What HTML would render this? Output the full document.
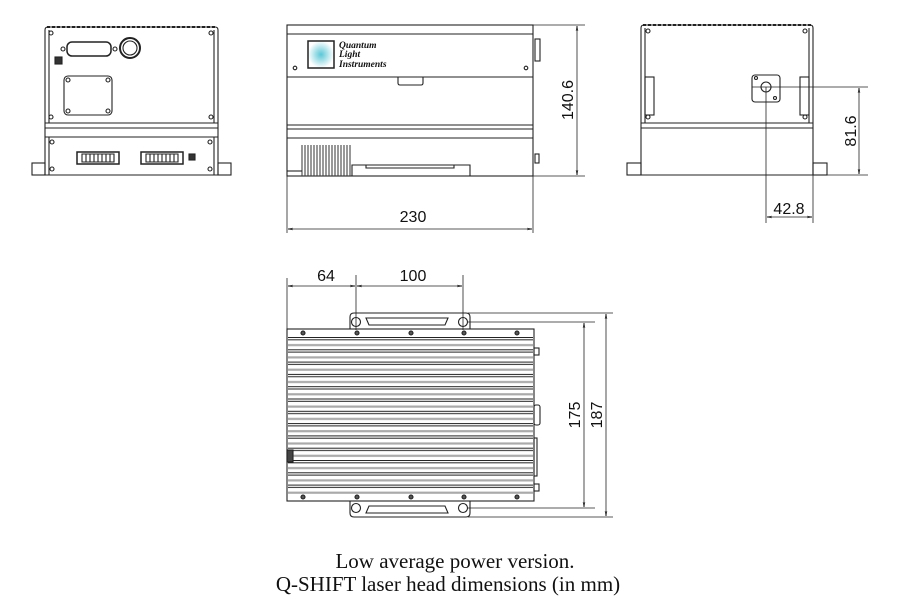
<!DOCTYPE html>
<html><head><style>
html,body{margin:0;padding:0;background:#fff}
svg{display:block}
</style></head><body>
<svg width="900" height="605" viewBox="0 0 900 605" xmlns="http://www.w3.org/2000/svg">
<defs>
<pattern id="fins" x="0" y="337" width="10" height="12.3" patternUnits="userSpaceOnUse">
<rect x="0" y="0" width="10" height="1" fill="#222"/>
<rect x="0" y="2.3" width="10" height="1" fill="#222"/>
<rect x="0" y="7" width="10" height="2.2" fill="#aaa"/>
</pattern>
<radialGradient id="glow"><stop offset="0" stop-color="#5cc6d6"/><stop offset="1" stop-color="#fff"/></radialGradient>
<marker id="a" viewBox="0 0 10 10" refX="10" refY="5" markerWidth="6" markerHeight="6" orient="auto-start-reverse"><path d="M0,3 L10,5 L0,7" fill="none" stroke="#000"/></marker>
</defs>
<g fill="none" stroke="#222" stroke-width="1.1">
<!-- FRONT VIEW -->
<path d="M45,30 Q45,27 48,27 L215,27 Q218,27 218,30 L218,175 L45,175 Z" fill="#fff"/>
<path d="M47,27 L216,27" stroke-dasharray="3,2" stroke-width="2"/>
<line x1="45" y1="123" x2="218" y2="123"/>
<line x1="45" y1="128" x2="218" y2="128"/>
<line x1="45" y1="137" x2="218" y2="137"/>
<line x1="49" y1="30" x2="49" y2="123"/><line x1="214" y1="30" x2="214" y2="123"/>
<line x1="49" y1="137" x2="49" y2="175"/><line x1="214" y1="137" x2="214" y2="175"/>
<rect x="32" y="163" width="13" height="12"/><rect x="218" y="163" width="13" height="12"/>
<rect x="67" y="42" width="44" height="14" rx="5" stroke-width="1.5"/>
<circle cx="63" cy="49" r="2"/><circle cx="115" cy="49" r="2"/>
<circle cx="130" cy="48" r="10" stroke-width="2"/><circle cx="130" cy="48" r="7"/>
<rect x="55" y="57" width="7" height="7" fill="#333"/>
<rect x="64" y="76" width="48" height="39" rx="4"/>
<circle cx="68" cy="80" r="2"/><circle cx="108" cy="80" r="2"/><circle cx="68" cy="111" r="2"/><circle cx="108" cy="111" r="2"/>
<circle cx="51" cy="33" r="2"/><circle cx="211" cy="33" r="2"/><circle cx="51" cy="117" r="2"/><circle cx="211" cy="117" r="2"/>
<circle cx="52" cy="142" r="2"/><circle cx="210" cy="142" r="2"/><circle cx="52" cy="169" r="2"/><circle cx="210" cy="169" r="2"/>
<rect x="77" y="152" width="42" height="12" stroke-width="1.5"/><path d="M82,154 h32 v8 h-32z M86,154v8 M90,154v8 M94,154v8 M98,154v8 M102,154v8 M106,154v8 M110,154v8"/>
<rect x="141" y="152" width="42" height="12" stroke-width="1.5"/><path d="M146,154 h32 v8 h-32z M150,154v8 M154,154v8 M158,154v8 M162,154v8 M166,154v8 M170,154v8 M174,154v8"/>
<rect x="189" y="154" width="6" height="6" fill="#333"/>

<!-- SIDE VIEW -->
<rect x="287" y="25" width="246" height="151" fill="#fff"/>
<line x1="287" y1="34" x2="533" y2="34"/>
<line x1="287" y1="77" x2="533" y2="77"/>
<line x1="287" y1="125" x2="533" y2="125"/>
<line x1="287" y1="129" x2="533" y2="129"/>
<line x1="287" y1="138" x2="533" y2="138"/>
<rect x="308" y="41" width="26" height="27" stroke-width="1.5" fill="url(#glow)"/>
<circle cx="295" cy="68" r="1.8"/><circle cx="526" cy="68" r="1.8"/>
<path d="M398,77 v6 q0,2 2,2 h21 q2,0 2,-2 v-6"/>
<rect x="535" y="39" width="5" height="22"/>
<rect x="535" y="154" width="4" height="9"/>
<path d="M302,145 v31 M305,145v31 M308,145v31 M311,145v31 M314,145v31 M317,145v31 M320,145v31 M323,145v31 M326,145v31 M329,145v31 M332,145v31 M335,145v31 M338,145v31 M341,145v31 M344,145v31 M347,145v31 M350,145v31" stroke="#444"/>
<path d="M352,176 v-11 h118 v11 M366,165 v3 h88 v-3"/>
<path d="M287,171 h15"/>
<!-- dims side -->
<line x1="533" y1="25" x2="585" y2="25" stroke-width="0.8"/>
<line x1="533" y1="176" x2="585" y2="176" stroke-width="0.8"/>
<line x1="577" y1="26" x2="577" y2="175" stroke-width="0.8" marker-start="url(#a)" marker-end="url(#a)"/>
<line x1="287" y1="176" x2="287" y2="233" stroke-width="0.8"/>
<line x1="533" y1="176" x2="533" y2="233" stroke-width="0.8"/>
<line x1="288" y1="229" x2="532" y2="229" stroke-width="0.8" marker-start="url(#a)" marker-end="url(#a)"/>

<!-- RIGHT VIEW -->
<path d="M641,28 Q641,25 644,25 L810,25 Q813,25 813,28 L813,175 L641,175 Z" fill="#fff"/>
<path d="M643,25 L811,25" stroke-dasharray="3,2" stroke-width="2"/>
<line x1="641" y1="123" x2="813" y2="123"/>
<line x1="641" y1="128" x2="813" y2="128"/>
<line x1="645" y1="28" x2="645" y2="123"/><line x1="809" y1="28" x2="809" y2="123"/>
<rect x="627" y="163" width="14" height="12"/><rect x="813" y="163" width="14" height="12"/>
<circle cx="648" cy="31" r="2"/><circle cx="805" cy="31" r="2"/><circle cx="648" cy="117" r="2"/><circle cx="805" cy="117" r="2"/>
<rect x="645" y="77" width="9" height="38"/><rect x="800" y="77" width="9" height="38"/>
<rect x="752" y="75" width="28" height="27" rx="3"/>
<circle cx="766" cy="87" r="5"/><circle cx="756" cy="78" r="1.5"/><circle cx="775" cy="98" r="1.5"/>
<line x1="752" y1="87" x2="868" y2="87" stroke-width="0.8"/>
<line x1="813" y1="175" x2="868" y2="175" stroke-width="0.8"/>
<line x1="859" y1="88" x2="859" y2="174" stroke-width="0.8" marker-start="url(#a)" marker-end="url(#a)"/>
<line x1="766" y1="87" x2="766" y2="223" stroke-width="0.8"/>
<line x1="813" y1="175" x2="813" y2="223" stroke-width="0.8"/>
<line x1="767" y1="217" x2="812" y2="217" stroke-width="0.8" marker-start="url(#a)" marker-end="url(#a)"/>

<!-- TOP VIEW -->
<path d="M350,329 v-12 q0,-4 4,-4 h112 q4,0 4,4 v12" fill="#fff"/>
<path d="M350,501 v12 q0,4 4,4 h112 q4,0 4,-4 v-12" fill="#fff"/>
<path d="M366,318 h82 l-3,7 h-76z"/><path d="M366,513 h82 l-3,-7 h-76z"/>
<circle cx="356" cy="322" r="4.5"/><circle cx="463" cy="322" r="4.5"/>
<circle cx="356" cy="508" r="4.5"/><circle cx="463" cy="508" r="4.5"/>
<rect x="287" y="329" width="247" height="172" fill="#fff"/>
<rect x="288" y="337" width="245" height="157" fill="url(#fins)" stroke="none"/>
<g fill="#555"><circle cx="303" cy="333" r="2"/><circle cx="357" cy="333" r="2"/><circle cx="411" cy="333" r="2"/><circle cx="464" cy="333" r="2"/><circle cx="517" cy="333" r="2"/>
<circle cx="303" cy="497" r="2"/><circle cx="357" cy="497" r="2"/><circle cx="411" cy="497" r="2"/><circle cx="464" cy="497" r="2"/><circle cx="517" cy="497" r="2"/></g>
<rect x="534" y="348" width="5" height="7"/><rect x="534" y="484" width="5" height="7"/>
<rect x="534" y="405" width="6" height="20" rx="2"/>
<rect x="534" y="438" width="3" height="38"/>
<rect x="287" y="450" width="6" height="12" fill="#444"/>
<!-- dims top -->
<line x1="287" y1="278" x2="287" y2="329" stroke-width="0.8"/>
<line x1="356" y1="275" x2="356" y2="330" stroke-width="0.8"/>
<line x1="463" y1="275" x2="463" y2="330" stroke-width="0.8"/>
<line x1="288" y1="286" x2="355" y2="286" stroke-width="0.8" marker-start="url(#a)" marker-end="url(#a)"/>
<line x1="357" y1="286" x2="462" y2="286" stroke-width="0.8" marker-start="url(#a)" marker-end="url(#a)"/>
<line x1="468" y1="313" x2="613" y2="313" stroke-width="0.8"/>
<line x1="468" y1="322" x2="595" y2="322" stroke-width="0.8"/>
<line x1="468" y1="508" x2="595" y2="508" stroke-width="0.8"/>
<line x1="468" y1="517" x2="613" y2="517" stroke-width="0.8"/>
<line x1="584" y1="323" x2="584" y2="507" stroke-width="0.8" marker-start="url(#a)" marker-end="url(#a)"/>
<line x1="606" y1="314" x2="606" y2="516" stroke-width="0.8" marker-start="url(#a)" marker-end="url(#a)"/>
</g>
<g style="font-family:'Liberation Serif',serif;font-style:italic;font-weight:bold;font-size:9.5px" fill="#111">
<text x="339" y="48">Quantum</text><text x="339" y="57">Light</text><text x="339" y="67">Instruments</text>
</g>
<g style="font-family:'Liberation Sans',sans-serif;font-size:16px" fill="#111">
<text x="0" y="0" transform="translate(573,100) rotate(-90)" text-anchor="middle">140.6</text>
<text x="413" y="222" text-anchor="middle">230</text>
<text x="0" y="0" transform="translate(856,131) rotate(-90)" text-anchor="middle">81.6</text>
<text x="789" y="214" text-anchor="middle">42.8</text>
<text x="326" y="281" text-anchor="middle">64</text>
<text x="413" y="281" text-anchor="middle">100</text>
<text x="0" y="0" transform="translate(580,415) rotate(-90)" text-anchor="middle">175</text>
<text x="0" y="0" transform="translate(602,415) rotate(-90)" text-anchor="middle">187</text>
</g>
<g style="font-family:'Liberation Serif',serif;font-size:21px" fill="#111" text-anchor="middle">
<text x="455" y="568">Low average power version.</text>
<text x="448" y="591">Q-SHIFT laser head dimensions (in mm)</text>
</g>
</svg>
</body></html>
